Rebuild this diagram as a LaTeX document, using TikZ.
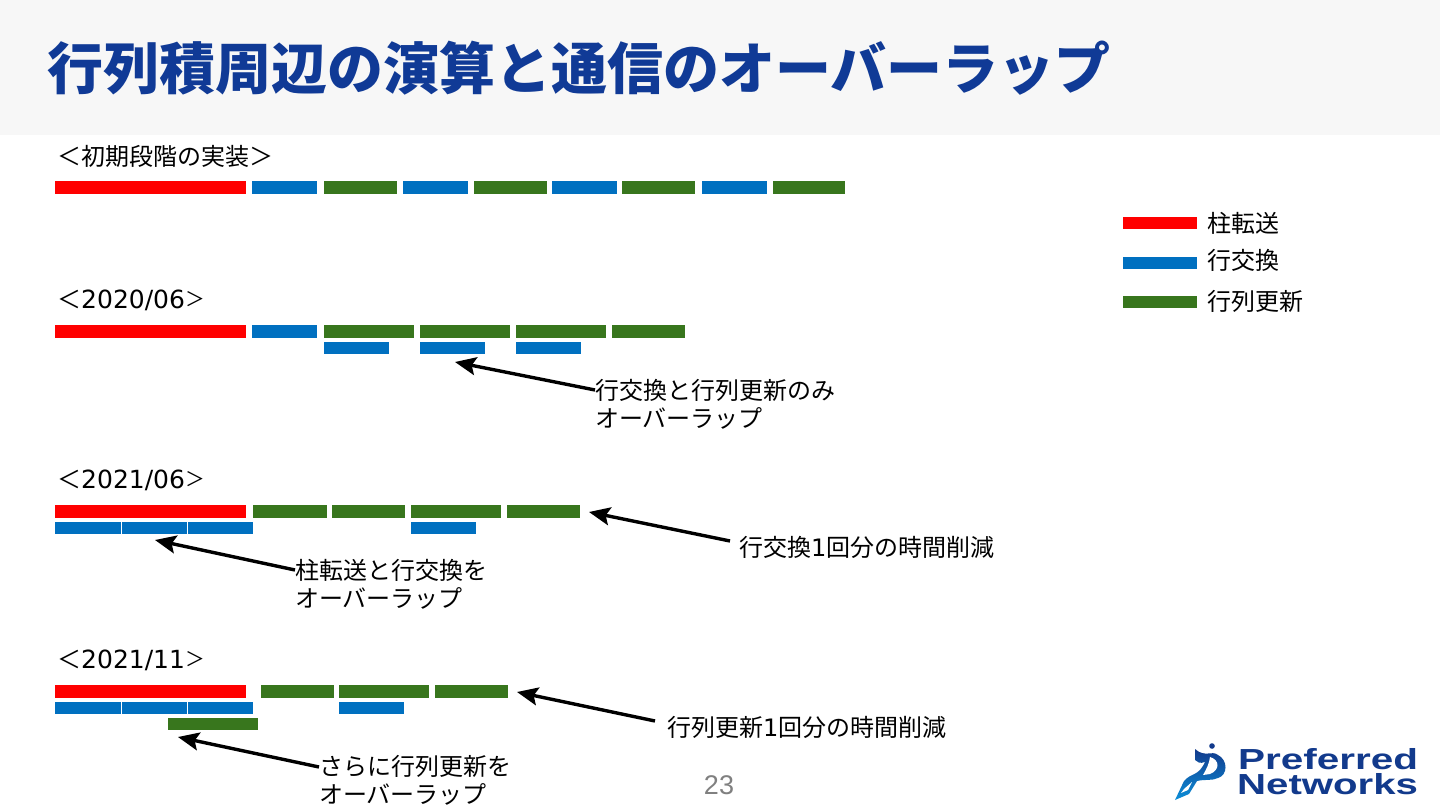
\documentclass[tikz,border=0pt]{standalone}
\usepackage{fontspec}
\setmainfont{Noto Sans CJK JP}
\newfontfamily\logofont{Liberation Sans}[BoldFont={Liberation Sans Bold}]
\newfontfamily\numfont{Liberation Sans}
\newfontfamily\digitfont{DejaVu Sans}
\usetikzlibrary{arrows.meta}
\definecolor{rd}{HTML}{FF0000}
\definecolor{bl}{HTML}{0070C0}
\definecolor{gr}{HTML}{38761D}
\definecolor{navy}{HTML}{103A96}
\definecolor{hdr}{HTML}{F7F7F7}
\definecolor{logoa}{HTML}{123A8C}
\definecolor{logob}{HTML}{0C8FD8}
\tikzset{
  seg/.style={draw=none,inner sep=0pt,outer sep=0pt,anchor=north west},
  lbl/.style={inner sep=0pt,anchor=west,font=\fontsize{24}{27}\selectfont,text=black},
  note/.style={lbl,align=left,font=\fontsize{24}{28}\selectfont},
  pointer/.style={line width=3.4pt,-{Stealth[length=21pt,width=18pt,inset=4pt]},black},
  logotext/.style={inner sep=0pt,anchor=west,text=logoa,font=\logofont\bfseries\fontsize{29}{29}\selectfont},
}
\newcommand{\bk}[6]{\node[seg,fill=#6,minimum width=#3pt,minimum height=#5pt] (#1) at (#2,#4) {};}
\newcommand{\dg}[1]{{\digitfont\fontsize{25}{27}\selectfont #1}\raisebox{1.5pt}{\scalebox{0.82}{＞}}}
\newcommand{\dd}[1]{{\digitfont\fontsize{24}{27}\selectfont #1}}
\begin{document}
\begin{tikzpicture}[x=1pt,y=-1pt]
\useasboundingbox (0,0) rectangle (1440,810);
\fill[white] (0,0) rectangle (1440,810);
\fill[hdr] (0,0) rectangle (1440,135);
\node[inner sep=0pt,anchor=west,text=navy,font=\fontsize{56}{60}\selectfont\bfseries] (title) at (47,68) {行列積周辺の演算と通信のオーバーラップ};

% row 1
\node[lbl] (h1) at (57,156) {＜初期段階の実装＞};
\bk{a1}{55}{191}{181}{13}{rd}
\bk{a2}{252}{65}{181}{13}{bl}
\bk{a3}{324}{73}{181}{13}{gr}
\bk{a4}{403}{65}{181}{13}{bl}
\bk{a5}{474}{73}{181}{13}{gr}
\bk{a6}{552}{65}{181}{13}{bl}
\bk{a7}{622}{73}{181}{13}{gr}
\bk{a8}{702}{65}{181}{13}{bl}
\bk{a9}{773}{72}{181}{13}{gr}

% row 2
\node[lbl] (h2) at (57,300) {＜\dg{2020/06}};
\bk{b1}{55}{191}{325}{13}{rd}
\bk{b2}{252}{65}{325}{13}{bl}
\bk{b3}{324}{90}{325}{13}{gr}
\bk{b4}{420}{90}{325}{13}{gr}
\bk{b5}{516}{90}{325}{13}{gr}
\bk{b6}{612}{73}{325}{13}{gr}
\bk{b7}{324}{65}{342}{12}{bl}
\bk{b8}{420}{65}{342}{12}{bl}
\bk{b9}{516}{65}{342}{12}{bl}
\node[note,anchor=north west] (n1) at (595,379) {行交換と行列更新のみ\\オーバーラップ};
\coordinate (t1) at (455,362);
\draw[pointer] (n1.north west |- 0,390) -- (t1);

% row 3
\node[lbl] (h3) at (57,480) {＜\dg{2021/06}};
\bk{c1}{55}{191}{505}{13}{rd}
\bk{c2}{253}{74}{505}{13}{gr}
\bk{c3}{332}{73}{505}{13}{gr}
\bk{c4}{411}{90}{505}{13}{gr}
\bk{c5}{507}{73}{505}{13}{gr}
\bk{c6}{55}{66}{522}{12}{bl}
\bk{c7}{122}{65}{522}{12}{bl}
\bk{c8}{188}{65}{522}{12}{bl}
\bk{c9}{411}{65}{522}{12}{bl}
\node[lbl] (n2) at (739,547) {行交換\dd{1}回分の時間削減};
\coordinate (t2) at (589,512);
\coordinate (s2) at (730,541);
\draw[pointer] (s2) -- (t2);
\node[note,anchor=north west] (n3) at (295,559) {柱転送と行交換を\\オーバーラップ};
\coordinate (t3) at (155,540);
\draw[pointer] (n3.north west |- 0,570) -- (t3);

% row 4
\node[lbl] (h4) at (57,660) {＜\dg{2021/11}};
\bk{d1}{55}{191}{685}{13}{rd}
\bk{d2}{261}{73}{685}{13}{gr}
\bk{d3}{339}{90}{685}{13}{gr}
\bk{d4}{435}{73}{685}{13}{gr}
\bk{d5}{55}{66}{702}{12}{bl}
\bk{d6}{122}{65}{702}{12}{bl}
\bk{d7}{188}{65}{702}{12}{bl}
\bk{d8}{339}{65}{702}{12}{bl}
\bk{d9}{168}{90}{718}{12}{gr}
\node[lbl] (n4) at (667,727) {行列更新\dd{1}回分の時間削減};
\coordinate (t4) at (517,692);
\coordinate (s4) at (655,721);
\draw[pointer] (s4) -- (t4);
\node[note,anchor=north west] (n5) at (319,755) {さらに行列更新を\\オーバーラップ};
\coordinate (t5) at (178,737);
\draw[pointer] (n5.north west |- 0,767) -- (t5);

% legend
\bk{l1}{1123}{74}{217}{12}{rd}
\bk{l2}{1123}{74}{257}{12}{bl}
\bk{l3}{1123}{74}{296}{12}{gr}
\node[lbl] (lt1) at (1207,223) {柱転送};
\node[lbl] (lt2) at (1207,260) {行交換};
\node[lbl] (lt3) at (1207,301) {行列更新};

% page number
\node[inner sep=0pt,text=black!50,font=\numfont\fontsize{27}{30}\selectfont] (pg) at (719,785) {23};

% logo
\node[logotext] (lg1) at (1238,759.5) {\scalebox{1.395}[1]{Preferred}};
\node[logotext] (lg2) at (1237,784) {\scalebox{1.385}[1]{Networks}};
\fill[logoa] (1212,746) circle (2.8);
\shade[top color=logoa,bottom color=logob] (1195,749)
  .. controls (1205,758) and (1212,750) .. (1218,755)
  .. controls (1228,760) and (1228,775) .. (1218,778)
  .. controls (1212,781) and (1205,779) .. (1197,781)
  -- (1189,794) -- (1175,800) -- (1184,781)
  .. controls (1192,772) and (1198,777) .. (1205,762)
  .. controls (1200,764) and (1197,762) .. (1195,760) -- cycle;
\fill[white] (1210,757) .. controls (1220,760) and (1220,770) .. (1210,774) -- (1203,775) .. controls (1207,768) and (1209,764) .. (1210,757) -- cycle;
\fill[white] (1192,782) -- (1184,789) -- (1181,793) -- (1188,790) -- cycle;
\end{tikzpicture}
\end{document}
